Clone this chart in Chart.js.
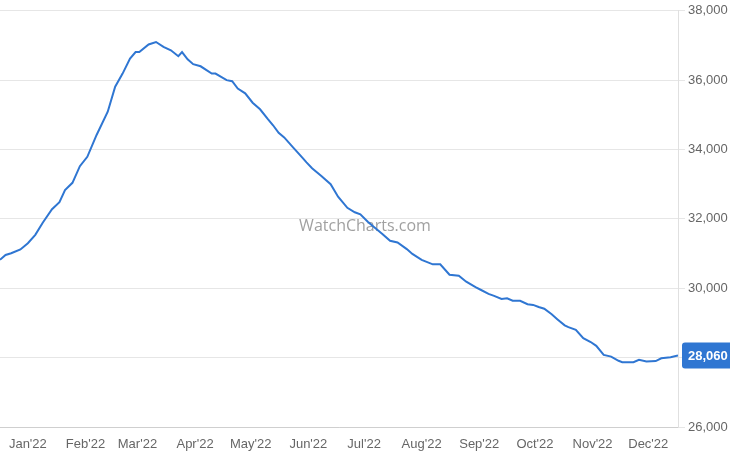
<!DOCTYPE html>
<html>
<head>
<meta charset="utf-8">
<script src="https://cdn.jsdelivr.net/npm/chart.js@4.4.0/dist/chart.umd.min.js"></script>
<style>
  html, body { margin: 0; padding: 0; background: #fff; }
  #wrap { width: 730px; height: 456px; }
</style>
</head>
<body>
<div id="wrap"><canvas id="myChart" width="730" height="456"></canvas></div>
<script>
// days counted from Jan 1 2022 (negative = Dec 2021)
const dias = [
  -15, -12, -9, -4, 0, 4, 8, 13, 17, 20, 24, 28, 32, 37, 43, 47, 51, 55, 58, 60,
  65, 69, 73, 77, 81, 83, 86, 89, 93, 99, 101, 107, 110, 113, 117, 121, 125, 129,
  132, 135, 138, 143, 148, 150, 153, 158, 163, 167, 172, 176, 179, 183, 186, 191,
  195, 199, 204, 207, 212, 218, 222, 227, 232, 236, 241, 244, 248, 251, 255, 258,
  261, 265, 269, 272, 275, 278, 282, 285, 289, 291, 295, 299, 303, 306, 310, 314,
  318, 320, 326, 329, 333, 338, 341, 346, 350
];
const precios = [
  30820, 30960, 31010, 31120, 31300, 31540, 31890, 32280, 32480, 32830, 33040, 33520,
  33790, 34420, 35090, 35810, 36190, 36620, 36810, 36810, 37030, 37100, 36960, 36860,
  36690, 36810, 36600, 36460, 36400, 36190, 36190, 36000, 35970, 35760, 35620, 35350,
  35160, 34890, 34700, 34480, 34350, 34050, 33750, 33630, 33460, 33240, 33000, 32640,
  32320, 32190, 32130, 31920, 31780, 31560, 31370, 31320, 31130, 30990, 30820, 30690,
  30690, 30390, 30360, 30190, 30030, 29950, 29840, 29780, 29690, 29710, 29640, 29640,
  29540, 29520, 29460, 29410, 29250, 29110, 28930, 28880, 28800, 28560, 28450, 28340,
  28080, 28030, 27910, 27870, 27870, 27940, 27890, 27900, 27980, 28010, 28060
];
const mesesDias = [0, 31, 59, 90, 120, 151, 181, 212, 243, 273, 304, 334];
const mesesLabels = ["Jan'22", "Feb'22", "Mar'22", "Apr'22", "May'22", "Jun'22",
  "Jul'22", "Aug'22", "Sep'22", "Oct'22", "Nov'22", "Dec'22"];

const azul = "#2f76d2";

const marcaAgua = {
  id: "marcaAgua",
  beforeDatasetsDraw(chart) {
    const { ctx, chartArea } = chart;
    ctx.save();
    ctx.font = "16px 'Open Sans', sans-serif";
    ctx.fillStyle = "rgba(120,120,120,0.7)";
    ctx.textAlign = "center";
    ctx.textBaseline = "middle";
    ctx.fillText("WatchCharts.com", 365, (chartArea.top + chartArea.bottom) / 2 + 8);
    ctx.restore();
  },
};

const ultimoValor = {
  id: "ultimoValor",
  afterDraw(chart) {
    const { ctx, scales } = chart;
    const valor = precios[precios.length - 1];
    const y = scales.y.getPixelForValue(valor);
    const x = scales.y.left + 4;
    const w = 730 - x;
    const h = 26;
    ctx.save();
    ctx.fillStyle = azul;
    ctx.beginPath();
    ctx.roundRect(x, y - h / 2, w + 4, h, 3);
    ctx.fill();
    ctx.fillStyle = "#fff";
    ctx.font = "bold 13px 'Liberation Sans', Arial, sans-serif";
    ctx.textAlign = "left";
    ctx.textBaseline = "middle";
    ctx.fillText(valor.toLocaleString("en-US"), x + 6, y + 1);
    ctx.restore();
  },
};

const ctx = document.getElementById("myChart");

new Chart(ctx, {
  type: "line",
  data: {
    datasets: [
      {
        data: dias.map((d, i) => ({ x: d, y: precios[i] })),
        borderColor: azul,
        borderWidth: 2,
        pointRadius: 0,
        tension: 0,
        fill: false,
      },
    ],
  },
  options: {
    responsive: false,
    animation: false,
    layout: { padding: { top: 10, left: 0, right: 0, bottom: 0 } },
    plugins: {
      legend: { display: false },
      tooltip: { enabled: false },
    },
    scales: {
      x: {
        type: "linear",
        min: -15,
        max: 350,
        afterBuildTicks: (axis) => {
          axis.ticks = mesesDias.map((v) => ({ value: v }));
        },
        afterFit: (axis) => {
          axis.height = 29;
        },
        ticks: {
          autoSkip: false,
          maxRotation: 0,
          color: "#666",
          padding: 2,
          font: { family: "'Liberation Sans', Arial, sans-serif", size: 13 },
          callback: (value) => mesesLabels[mesesDias.indexOf(value)],
        },
        grid: { display: false },
        border: { display: true, color: "#cfcfcf" },
      },
      y: {
        position: "right",
        min: 26000,
        max: 38000,
        afterFit: (axis) => {
          axis.width = 52;
        },
        ticks: {
          stepSize: 2000,
          color: "#666",
          padding: 3,
          font: { family: "'Liberation Sans', Arial, sans-serif", size: 13 },
          callback: (value) => value.toLocaleString("en-US"),
        },
        grid: { color: "#e6e6e6", tickLength: 7, tickColor: "#e6e6e6" },
        border: { display: true, color: "#e0e0e0" },
      },
    },
  },
  plugins: [marcaAgua, ultimoValor],
});
</script>
</body>
</html>
